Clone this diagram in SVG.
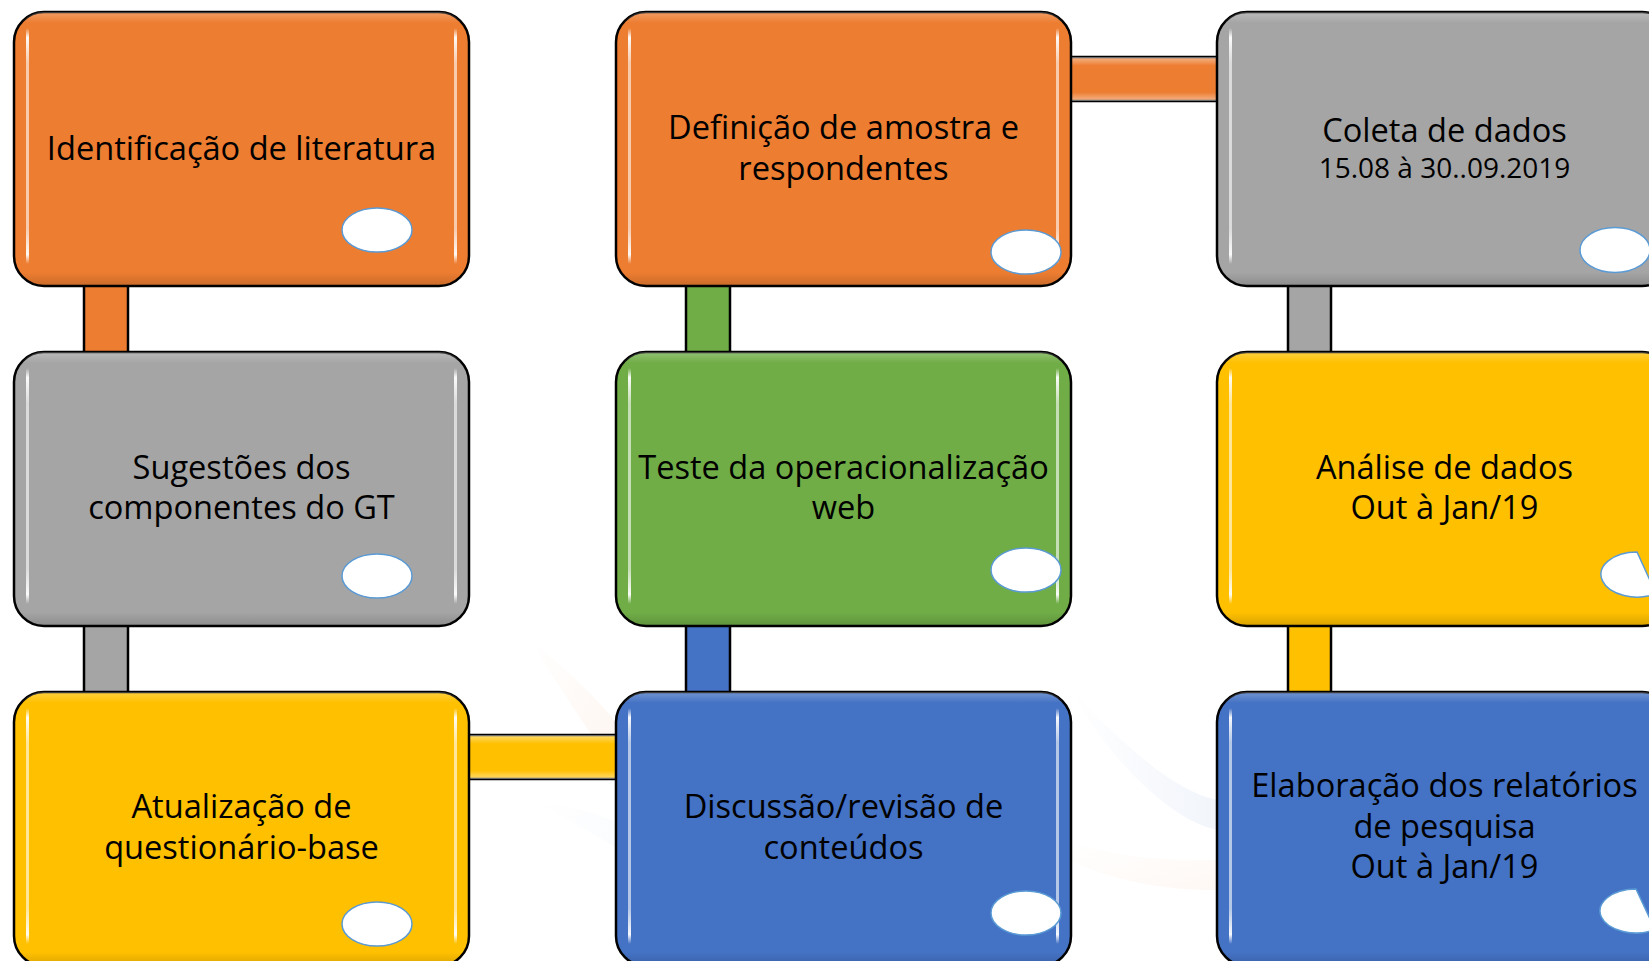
<svg xmlns="http://www.w3.org/2000/svg" width="1649" height="961" viewBox="0 0 1649 961">
  <defs>
    <style>
      .box { stroke: #000; stroke-width: 2.5; }
      .orange { fill: #ED7D31; }
      .gray { fill: #A5A5A5; }
      .green { fill: #70AD47; }
      .yellow { fill: #FFC000; }
      .blue { fill: #4472C4; }
      .bar { stroke: #000; stroke-width: 2.5; }
      .t { font-family: "Open Sans", "Noto Sans", "DejaVu Sans", sans-serif; font-size: 32.6px; fill: #000; text-anchor: middle; }
      .ts { font-size: 28px; }
      .dot { fill: #fff; stroke: #5B9BD5; stroke-width: 1.5; }
      .hl { fill: url(#hlGrad); }
    </style>
    <linearGradient id="hlGrad" x1="0" y1="0" x2="0" y2="1">
      <stop offset="0" stop-color="#fff" stop-opacity="0"/>
      <stop offset="0.04" stop-color="#fff" stop-opacity="0.95"/>
      <stop offset="0.15" stop-color="#fff" stop-opacity="0.6"/>
      <stop offset="0.85" stop-color="#fff" stop-opacity="0.6"/>
      <stop offset="0.96" stop-color="#fff" stop-opacity="0.95"/>
      <stop offset="1" stop-color="#fff" stop-opacity="0"/>
    </linearGradient>
    <linearGradient id="shade" x1="0" y1="0" x2="0" y2="1">
      <stop offset="0" stop-color="#fff" stop-opacity="0.25"/>
      <stop offset="0.04" stop-color="#fff" stop-opacity="0"/>
      <stop offset="0.95" stop-color="#000" stop-opacity="0"/>
      <stop offset="1" stop-color="#000" stop-opacity="0.15"/>
    </linearGradient>
    <linearGradient id="barH" x1="0" y1="0" x2="0" y2="1">
      <stop offset="0" stop-color="#fff" stop-opacity="0.45"/>
      <stop offset="0.2" stop-color="#fff" stop-opacity="0"/>
      <stop offset="0.8" stop-color="#fff" stop-opacity="0"/>
      <stop offset="1" stop-color="#fff" stop-opacity="0.45"/>
    </linearGradient>
    <linearGradient id="wmO" x1="0" y1="0" x2="1" y2="1">
      <stop offset="0" stop-color="#F4B183" stop-opacity="0"/>
      <stop offset="1" stop-color="#F4B183" stop-opacity="0.15"/>
    </linearGradient>
    <linearGradient id="wmB" x1="0" y1="0" x2="1" y2="0">
      <stop offset="0" stop-color="#B4C7E7" stop-opacity="0"/>
      <stop offset="1" stop-color="#B4C7E7" stop-opacity="0.18"/>
    </linearGradient>
  </defs>

  <rect x="0" y="0" width="1649" height="961" fill="#fff"/>

  <g id="watermark">
    <path d="M530,640 C580,680 620,720 650,770 L620,780 C590,730 560,690 530,640 Z" fill="url(#wmO)"/>
    <path d="M530,800 C600,810 650,830 700,870 L690,900 C640,860 590,830 530,800 Z" fill="url(#wmB)" opacity="0.6"/>
    <path d="M1070,690 C1120,740 1170,790 1217,800 L1217,830 C1170,820 1110,760 1070,690 Z" fill="url(#wmB)"/>
    <path d="M1070,840 C1120,860 1170,860 1217,860 L1217,890 C1160,890 1110,880 1070,860 Z" fill="url(#wmO)" opacity="0.6"/>
  </g>

  <g id="connectors">
    <rect class="bar orange" x="84" y="280" width="44" height="78"/>
    <rect class="bar gray" x="84" y="620" width="44" height="78"/>
    <rect class="bar yellow" x="462" y="735" width="160" height="44"/>
    <rect x="462" y="735" width="160" height="44" fill="url(#barH)"/>
    <rect class="bar blue" x="686" y="620" width="44" height="78"/>
    <rect class="bar green" x="686" y="280" width="44" height="78"/>
    <rect class="bar orange" x="1064" y="57" width="160" height="44"/>
    <rect x="1064" y="57" width="160" height="44" fill="url(#barH)"/>
    <rect class="bar gray" x="1288" y="280" width="43" height="78"/>
    <rect class="bar yellow" x="1288" y="620" width="43" height="78"/>
  </g>

  <g id="n1">
    <rect class="box orange" x="14" y="12" width="455" height="274" rx="30"/>
    <rect x="14" y="12" width="455" height="274" rx="30" fill="url(#shade)"/>
    <rect class="hl" x="26" y="28" width="3" height="236" rx="1.5"/>
    <rect class="hl" x="454" y="28" width="3" height="236" rx="1.5"/>
    <text class="t" x="241.5" y="160">Identificação de literatura</text>
    <ellipse class="dot" cx="377" cy="230" rx="35" ry="22"/>
  </g>

  <g id="n2">
    <rect class="box gray" x="14" y="352" width="455" height="274" rx="30"/>
    <rect x="14" y="352" width="455" height="274" rx="30" fill="url(#shade)"/>
    <rect class="hl" x="26" y="368" width="3" height="236" rx="1.5"/>
    <rect class="hl" x="454" y="368" width="3" height="236" rx="1.5"/>
    <text class="t" x="241.5" y="479">Sugestões dos</text>
    <text class="t" x="241.5" y="519">componentes do GT</text>
    <ellipse class="dot" cx="377" cy="576" rx="35" ry="22"/>
  </g>

  <g id="n3">
    <rect class="box yellow" x="14" y="692" width="455" height="274" rx="30"/>
    <rect x="14" y="692" width="455" height="274" rx="30" fill="url(#shade)"/>
    <rect class="hl" x="26" y="708" width="3" height="236" rx="1.5"/>
    <rect class="hl" x="454" y="708" width="3" height="236" rx="1.5"/>
    <text class="t" x="241.5" y="818">Atualização de</text>
    <text class="t" x="241.5" y="859">questionário-base</text>
    <ellipse class="dot" cx="377" cy="924" rx="35" ry="22"/>
  </g>

  <g id="n4">
    <rect class="box blue" x="616" y="692" width="455" height="274" rx="30"/>
    <rect x="616" y="692" width="455" height="274" rx="30" fill="url(#shade)"/>
    <rect class="hl" x="628" y="708" width="3" height="236" rx="1.5"/>
    <rect class="hl" x="1056" y="708" width="3" height="236" rx="1.5"/>
    <text class="t" x="843.5" y="818">Discussão/revisão de</text>
    <text class="t" x="843.5" y="859">conteúdos</text>
    <ellipse class="dot" cx="1026" cy="913" rx="35" ry="22"/>
  </g>

  <g id="n5">
    <rect class="box green" x="616" y="352" width="455" height="274" rx="30"/>
    <rect x="616" y="352" width="455" height="274" rx="30" fill="url(#shade)"/>
    <rect class="hl" x="628" y="368" width="3" height="236" rx="1.5"/>
    <rect class="hl" x="1056" y="368" width="3" height="236" rx="1.5"/>
    <text class="t" x="843.5" y="479">Teste da operacionalização</text>
    <text class="t" x="843.5" y="519">web</text>
    <ellipse class="dot" cx="1026" cy="570" rx="35" ry="22"/>
  </g>

  <g id="n6">
    <rect class="box orange" x="616" y="12" width="455" height="274" rx="30"/>
    <rect x="616" y="12" width="455" height="274" rx="30" fill="url(#shade)"/>
    <rect class="hl" x="628" y="28" width="3" height="236" rx="1.5"/>
    <rect class="hl" x="1056" y="28" width="3" height="236" rx="1.5"/>
    <text class="t" x="843.5" y="139">Definição de amostra e</text>
    <text class="t" x="843.5" y="180">respondentes</text>
    <ellipse class="dot" cx="1026" cy="252" rx="35" ry="22"/>
  </g>

  <g id="n7">
    <rect class="box gray" x="1217" y="12" width="455" height="274" rx="30"/>
    <rect x="1217" y="12" width="455" height="274" rx="30" fill="url(#shade)"/>
    <rect class="hl" x="1229" y="28" width="3" height="236" rx="1.5"/>
    <text class="t" x="1444.5" y="142">Coleta de dados</text>
    <text class="t ts" x="1444.5" y="178">15.08 à 30..09.2019</text>
    <ellipse class="dot" cx="1615" cy="250" rx="35" ry="22.5"/>
  </g>

  <g id="n8">
    <rect class="box yellow" x="1217" y="352" width="455" height="274" rx="30"/>
    <rect x="1217" y="352" width="455" height="274" rx="30" fill="url(#shade)"/>
    <rect class="hl" x="1229" y="368" width="3" height="236" rx="1.5"/>
    <text class="t" x="1444.5" y="479">Análise de dados</text>
    <text class="t" x="1444.5" y="519">Out à Jan/19</text>
    <path class="dot" d="M1637,552 A36,22.5 0 1,0 1656,593.6 Z"/>
  </g>

  <g id="n9">
    <rect class="box blue" x="1217" y="692" width="455" height="274" rx="30"/>
    <rect x="1217" y="692" width="455" height="274" rx="30" fill="url(#shade)"/>
    <rect class="hl" x="1229" y="708" width="3" height="236" rx="1.5"/>
    <text class="t" x="1444.5" y="797">Elaboração dos relatórios</text>
    <text class="t" x="1444.5" y="838">de pesquisa</text>
    <text class="t" x="1444.5" y="878">Out à Jan/19</text>
    <path class="dot" d="M1636,889 A36,22 0 1,0 1655,929.7 Z"/>
  </g>
</svg>
